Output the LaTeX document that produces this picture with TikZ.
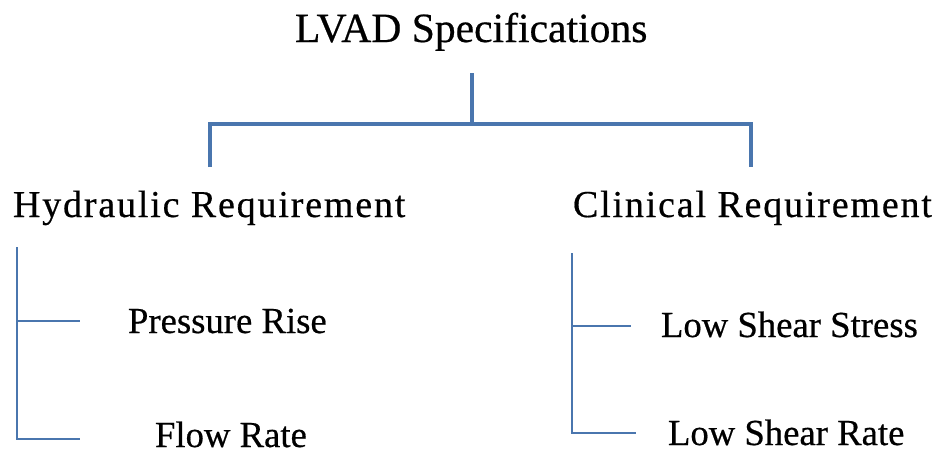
\documentclass[tikz,border=0pt]{standalone}
\usepackage{fontspec}
\setmainfont{Liberation Serif}[FakeBold=0.5]
\definecolor{linkblue}{HTML}{4A76AE}
\begin{document}
\begin{tikzpicture}[x=1pt,y=-1pt,
  txt/.style={anchor=base west,inner sep=0pt,outer sep=0pt,text=black},
  titletxt/.style={txt,font=\fontsize{41.6}{44}\selectfont},
  headtxt/.style={txt,font=\fontsize{38}{42}\selectfont\addfontfeature{LetterSpace=4.8}},
  subtxt/.style={txt,font=\fontsize{36.7}{40}\selectfont},
  mainlink/.style={draw=linkblue,line width=3.2pt},
  sublink/.style={draw=linkblue,line width=2.5pt}]
\useasboundingbox[fill=white] (0,0) rectangle (936,455);

% texts
\node[titletxt] (title) at (295,42) {LVAD Specifications};
\node[headtxt] (hyd) at (13,217) {Hydraulic Requirement};
\node[headtxt] (cli) at (573,217) {Clinical Requirement};
\node[subtxt] (pr) at (128,333) {Pressure Rise};
\node[subtxt] (fr) at (155,447) {Flow Rate};
\node[subtxt] (lss) at (661,337) {Low Shear Stress};
\node[subtxt] (lsr) at (668,445) {Low Shear Rate};

% connector points
\coordinate (ttop) at (472,73);
\coordinate (tmid) at (472,124);
\coordinate (tl) at (210,124);
\coordinate (tr) at (751,124);
\coordinate (hydtop) at (210,167);
\coordinate (clitop) at (751,167);

\coordinate (ltop) at (17,247);
\coordinate (lmid) at (17,321);
\coordinate (lbot) at (17,439);
\coordinate (prend) at (80,321);
\coordinate (frend) at (80,439);

\coordinate (rtop) at (572,253);
\coordinate (rmid) at (572,326);
\coordinate (rbot) at (572,433);
\coordinate (lssend) at (631,326);
\coordinate (lsrend) at (636,433);

% connectors
\draw[mainlink] (ttop) -- (tmid);
\draw[mainlink] (hydtop) -- (tl) -- (tr) -- (clitop);
\draw[sublink] (ltop) -- (lbot) -- (frend);
\draw[sublink] (lmid) -- (prend);
\draw[sublink] (rtop) -- (rbot) -- (lsrend);
\draw[sublink] (rmid) -- (lssend);
\end{tikzpicture}
\end{document}
